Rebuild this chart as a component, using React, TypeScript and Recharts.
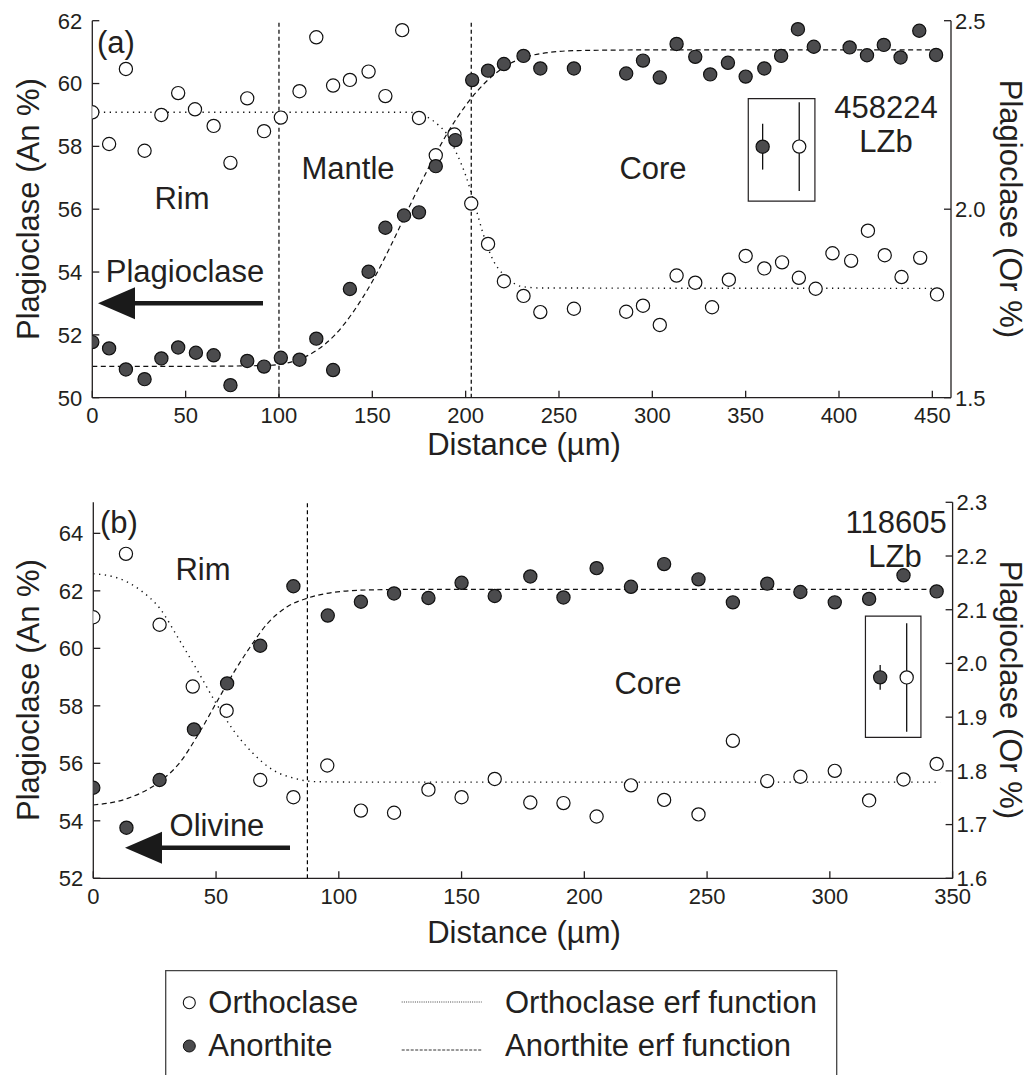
import React from 'react';
import { ComposedChart, Scatter, Line, XAxis, YAxis, ReferenceLine, ReferenceArea, ErrorBar } from 'recharts';

// ---- panel (a) 458224 LZb ----
const anDistA = [0, 9, 18, 28, 37, 46, 55.5, 65, 74, 83, 92, 101, 111, 120, 129, 138, 148, 157, 167, 175, 184, 194.5, 203.5, 212, 220.5, 231, 240, 258, 286, 295, 304, 313, 323, 331, 340.5, 350, 360, 369, 378, 386.5, 405.7, 415, 424, 433, 443, 452];
const anValA = [51.77, 51.57, 50.9, 50.59, 51.25, 51.6, 51.43, 51.35, 50.4, 51.17, 50.99, 51.27, 51.21, 51.88, 50.88, 53.46, 54.01, 55.41, 55.8, 55.9, 57.37, 58.2, 60.11, 60.41, 60.62, 60.88, 60.48, 60.48, 60.32, 60.73, 60.19, 61.26, 60.85, 60.29, 60.66, 60.22, 60.48, 60.88, 61.73, 61.17, 61.15, 60.9, 61.23, 60.83, 61.68, 60.91];
const orDistA = [0, 9, 18, 28, 37, 46, 55, 65, 74, 83, 92, 101, 111, 120, 129, 138, 148, 157, 166, 175, 184, 194, 203, 212, 220.5, 231, 240, 258, 286, 295, 304, 313, 323, 332, 341, 350, 360, 369.5, 378.5, 387.5, 396.5, 406.5, 415.5, 424.5, 433.5, 443.5, 452.5];
const orValA = [2.257, 2.173, 2.372, 2.155, 2.25, 2.308, 2.265, 2.221, 2.123, 2.294, 2.207, 2.243, 2.313, 2.456, 2.328, 2.343, 2.365, 2.3, 2.475, 2.242, 2.143, 2.198, 2.015, 1.908, 1.809, 1.77, 1.727, 1.736, 1.728, 1.744, 1.693, 1.824, 1.805, 1.74, 1.813, 1.876, 1.843, 1.859, 1.818, 1.789, 1.883, 1.863, 1.943, 1.878, 1.82, 1.871, 1.774];
// erf fits
const anErfDistA = [0, 50, 90, 100, 110, 120, 130, 140, 150, 160, 170, 180, 190, 200, 210, 220, 230, 240, 260, 300, 455];
const anErfValA = [51.0, 51.0, 51.02, 51.06, 51.2, 51.5, 52.0, 52.75, 53.7, 54.85, 56.1, 57.3, 58.4, 59.3, 60.0, 60.5, 60.8, 60.95, 61.05, 61.07, 61.07];
const orErfDistA = [0, 170, 175, 180, 185, 190, 195, 200, 205, 210, 215, 220, 225, 230, 240, 455];
const orErfValA = [2.257, 2.257, 2.253, 2.243, 2.225, 2.199, 2.15, 2.09, 2.01, 1.925, 1.862, 1.828, 1.806, 1.795, 1.791, 1.79];
const zonesA = [100, 203];
const errBoxA = [351.4, 387.1, 56.26, 59.52];
const errAnA = [{ x: 359.1, y: 57.99, e: 0.73 }];
const errOrA = [{ x: 378.7, y: 2.166, e: 0.118 }];
const xTicksA = [0, 50, 100, 150, 200, 250, 300, 350, 400, 450];
const anTicksA = [50, 52, 54, 56, 58, 60, 62];
const orTicksA = [1.5, 2.0, 2.5];

// ---- panel (b) 118605 LZb ----
const anDistB = [0, 13.5, 27, 41, 54.5, 68, 81.5, 95.5, 109, 122.5, 136.5, 150, 163.5, 178, 191.5, 205, 219, 232.5, 246.5, 260.5, 274.5, 288, 302, 316, 330, 343.5];
const anValB = [55.15, 53.76, 55.42, 57.18, 58.78, 60.09, 62.16, 61.14, 61.62, 61.91, 61.75, 62.28, 61.82, 62.5, 61.77, 62.79, 62.14, 62.93, 62.4, 61.6, 62.25, 61.96, 61.6, 61.72, 62.54, 61.98];
const orDistB = [0, 13.3, 27, 40.5, 54.3, 68, 81.5, 95.3, 109, 122.5, 136.5, 150, 163.5, 178, 191.5, 205, 219, 232.5, 246.5, 260.5, 274.5, 288, 302, 316, 330, 343.5];
const orValB = [2.086, 2.204, 2.072, 1.957, 1.912, 1.783, 1.751, 1.81, 1.726, 1.722, 1.765, 1.751, 1.785, 1.741, 1.74, 1.715, 1.773, 1.746, 1.719, 1.856, 1.781, 1.789, 1.8, 1.745, 1.784, 1.813];
const anErfDistB = [0, 14, 27, 35, 43, 50, 57, 64, 71, 79, 87, 95, 111, 130, 345];
const anErfValB = [54.55, 54.78, 55.36, 56.0, 57.04, 58.09, 59.13, 60.06, 60.87, 61.45, 61.74, 61.91, 62.03, 62.05, 62.05];
const orErfDistB = [0, 10, 19, 27, 35, 43, 50, 57, 65, 73, 82, 90, 110, 345];
const orErfValB = [2.167, 2.159, 2.137, 2.103, 2.044, 1.982, 1.926, 1.876, 1.833, 1.802, 1.786, 1.78, 1.779, 1.779];
const zonesB = [87.2];
const errBoxB = [314.5, 337.1, 56.9, 61.12];
const errAnB = [{ x: 320.5, y: 58.99, e: 0.43 }];
const errOrB = [{ x: 331.3, y: 1.974, e: 0.101 }];
const xTicksB = [0, 50, 100, 150, 200, 250, 300, 350];
const anTicksB = [52, 54, 56, 58, 60, 62, 64];
const orTicksB = [1.6, 1.7, 1.8, 1.9, 2.0, 2.1, 2.2, 2.3];

const zip = (xs: number[], ys: number[]) => xs.map((x, i) => ({ x, y: ys[i] }));

const INK = '#231f20';
const FONT = '"Liberation Sans", Arial, Helvetica, sans-serif';
const tickText = { fill: INK, fontSize: 22, fontFamily: FONT };
const axisLine = { stroke: INK, strokeWidth: 1.3 };

const filledDot = (p: any) => <circle cx={p.cx} cy={p.cy} r={6.6} fill="#4b4b4d" stroke="#111" strokeWidth={1.2} />;
const openDot = (p: any) => <circle cx={p.cx} cy={p.cy} r={6.6} fill="#fff" stroke="#111" strokeWidth={1.2} />;

type PanelProps = {
  top: number;
  margin: { top: number; right: number; bottom: number; left: number };
  xDomain: number[];
  xTicks: number[];
  anDomain: number[];
  anTicks: number[];
  orDomain: number[];
  orTicks: number[];
  an: { x: number; y: number }[];
  or: { x: number; y: number }[];
  anErf: { x: number; y: number }[];
  orErf: { x: number; y: number }[];
  zones: number[];
  box: number[];
  errAn: any[];
  errOr: any[];
};

const Panel = (p: PanelProps) => (
  <div style={{ position: 'absolute', left: 0, top: p.top }}>
    <ComposedChart width={1032} height={470} margin={p.margin}>
      <XAxis xAxisId="b" dataKey="x" type="number" domain={p.xDomain} ticks={p.xTicks} interval={0}
        allowDataOverflow height={30} tickSize={-7} tickMargin={17} axisLine={axisLine} tickLine={axisLine} tick={tickText} />
      <XAxis xAxisId="t" orientation="top" dataKey="x" type="number" domain={p.xDomain} ticks={p.xTicks} interval={0}
        allowDataOverflow height={0} tickSize={-7} axisLine={axisLine} tickLine={axisLine} tick={false} />
      <YAxis yAxisId="an" type="number" domain={p.anDomain} ticks={p.anTicks} interval={0} allowDataOverflow
        width={60} tickSize={-7} tickMargin={17} axisLine={axisLine} tickLine={axisLine} tick={tickText} />
      <YAxis yAxisId="or" orientation="right" type="number" domain={p.orDomain} ticks={p.orTicks} interval={0} allowDataOverflow
        width={60} tickSize={-7} tickMargin={11} axisLine={axisLine} tickLine={axisLine} tick={tickText}
        tickFormatter={(v: number) => v.toFixed(1)} />
      {p.zones.map((z) => (
        <ReferenceLine key={z} xAxisId="b" yAxisId="an" x={z} stroke="#000" strokeWidth={1.2} strokeDasharray="4 3" />
      ))}
      <ReferenceArea xAxisId="b" yAxisId="an" x1={p.box[0]} x2={p.box[1]} y1={p.box[2]} y2={p.box[3]}
        fill="none" fillOpacity={0} stroke={INK} strokeWidth={1.2} />
      <Line xAxisId="b" yAxisId="an" data={p.anErf} dataKey="y" type="monotone" dot={false} stroke="#111"
        strokeWidth={1.2} strokeDasharray="5 3.5" isAnimationActive={false} />
      <Line xAxisId="b" yAxisId="or" data={p.orErf} dataKey="y" type="monotone" dot={false} stroke="#111"
        strokeWidth={1.4} strokeDasharray="1.3 4.5" isAnimationActive={false} />
      <Scatter xAxisId="b" yAxisId="or" data={p.or} dataKey="y" shape={openDot} isAnimationActive={false} />
      <Scatter xAxisId="b" yAxisId="an" data={p.an} dataKey="y" shape={filledDot} isAnimationActive={false} />
      <Scatter xAxisId="b" yAxisId="an" data={p.errAn} dataKey="y" shape={filledDot} isAnimationActive={false}>
        <ErrorBar dataKey="e" direction="y" width={0} stroke="#111" strokeWidth={1.3} />
      </Scatter>
      <Scatter xAxisId="b" yAxisId="or" data={p.errOr} dataKey="y" shape={openDot} isAnimationActive={false}>
        <ErrorBar dataKey="e" direction="y" width={0} stroke="#111" strokeWidth={1.3} />
      </Scatter>
    </ComposedChart>
  </div>
);

const T = (props: any) => (
  <text fill={INK} fontFamily={FONT} fontSize={31} dominantBaseline="central" {...props} />
);

const Arrow = ({ tip, base, tail, y }: { tip: number; base: number; tail: number; y: number }) => (
  <g>
    <line x1={base - 2} y1={y} x2={tail} y2={y} stroke="#1a1a1a" strokeWidth={4.6} />
    <polygon points={`${tip},${y} ${base},${y - 16} ${base},${y + 16}`} fill="#1a1a1a" />
  </g>
);

export default function App() {
  return (
    <div style={{ position: 'absolute', left: 0, top: 0, width: 1032, height: 1075, background: '#fff', overflow: 'hidden' }}>
      <Panel
        top={0}
        margin={{ top: 20.7, right: 21, bottom: 42.3, left: 32.3 }}
        xDomain={[0, 460]} xTicks={xTicksA}
        anDomain={[50, 62]} anTicks={anTicksA}
        orDomain={[1.5, 2.5]} orTicks={orTicksA}
        an={zip(anDistA, anValA)} or={zip(orDistA, orValA)}
        anErf={zip(anErfDistA, anErfValA)} orErf={zip(orErfDistA, orErfValA)}
        zones={zonesA} box={errBoxA} errAn={errAnA} errOr={errOrA}
      />
      <Panel
        top={480}
        margin={{ top: 22.3, right: 19.4, bottom: 41.7, left: 33.3 }}
        xDomain={[0, 350]} xTicks={xTicksB}
        anDomain={[52, 65.08]} anTicks={anTicksB}
        orDomain={[1.6, 2.3]} orTicks={orTicksB}
        an={zip(anDistB, anValB)} or={zip(orDistB, orValB)}
        anErf={zip(anErfDistB, anErfValB)} orErf={zip(orErfDistB, orErfValB)}
        zones={zonesB} box={errBoxB} errAn={errAnB} errOr={errOrB}
      />
      <svg width={1032} height={1075} style={{ position: 'absolute', left: 0, top: 0, pointerEvents: 'none' }}>
        {/* panel (a) annotations */}
        <T x={97} y={42}>(a)</T>
        <T x={182} y={198} textAnchor="middle">Rim</T>
        <T x={348} y={168} textAnchor="middle">Mantle</T>
        <T x={653} y={168} textAnchor="middle">Core</T>
        <T x={185} y={271} textAnchor="middle">Plagioclase</T>
        <Arrow tip={98} base={135} tail={263} y={303.3} />
        <T x={886} y={107} textAnchor="middle">458224</T>
        <T x={886} y={141} textAnchor="middle">LZb</T>
        <T x={524} y={444} textAnchor="middle">Distance (µm)</T>
        <T x={28} y={209} textAnchor="middle" transform="rotate(-90 28 209)">Plagioclase (An %)</T>
        <T x={1010} y={209} textAnchor="middle" transform="rotate(90 1010 209)">Plagioclase (Or %)</T>

        {/* panel (b) annotations */}
        <T x={100} y={522}>(b)</T>
        <T x={203} y={569} textAnchor="middle">Rim</T>
        <T x={217} y={825} textAnchor="middle">Olivine</T>
        <Arrow tip={125} base={162} tail={290} y={847.7} />
        <T x={648} y={683} textAnchor="middle">Core</T>
        <T x={946.7} y={522} textAnchor="end">118605</T>
        <T x={895} y={556} textAnchor="middle">LZb</T>
        <T x={524} y={932.5} textAnchor="middle">Distance (µm)</T>
        <T x={28} y={690} textAnchor="middle" transform="rotate(-90 28 690)">Plagioclase (An %)</T>
        <T x={1010} y={690} textAnchor="middle" transform="rotate(90 1010 690)">Plagioclase (Or %)</T>

        {/* legend */}
        <polyline points="165.7,1076 165.7,970.7 836.7,970.7 836.7,1076" fill="none" stroke="#444" strokeWidth={1.3} />
        <circle cx={189.3} cy={1002.7} r={6} fill="#fff" stroke="#111" strokeWidth={1.1} />
        <T x={208.3} y={1002.5}>Orthoclase</T>
        <circle cx={189.3} cy={1046} r={6} fill="#4b4b4d" stroke="#111" strokeWidth={1} />
        <T x={208.3} y={1045.8}>Anorthite</T>
        <line x1={401.7} y1={1002} x2={481.7} y2={1002} stroke="#444" strokeWidth={1} strokeDasharray="1 1.2" />
        <T x={505} y={1002.5}>Orthoclase erf function</T>
        <line x1={401.7} y1={1050} x2={481.7} y2={1050} stroke="#333" strokeWidth={1} strokeDasharray="3 1.5" />
        <T x={505} y={1045.8}>Anorthite erf function</T>
      </svg>
    </div>
  );
}
